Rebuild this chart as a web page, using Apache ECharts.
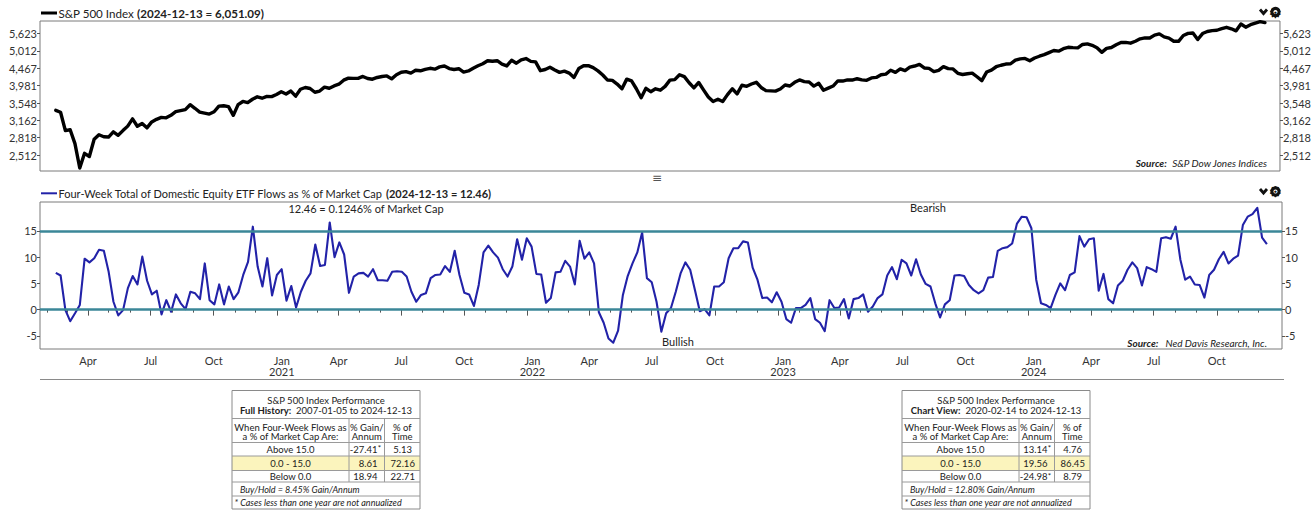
<!DOCTYPE html>
<html>
<head>
<meta charset="utf-8">
<script src="https://cdn.jsdelivr.net/npm/echarts@6/dist/echarts.min.js"></script>
<style>
  html, body { margin: 0; padding: 0; background: #fff; }
  #chart { width: 1314px; height: 511px; }
</style>
</head>
<body>
<div id="chart"></div>
<script>
// Weekly observations (Fridays), first week and count
const FIRST_WEEK = Date.UTC(2020, 1, 14);
const WEEK_MS = 7 * 86400000;

// S&P 500 weekly closes, 2020-02-14 .. 2024-12-13
const spx2020 = [3380, 3338, 2954, 2972, 2711, 2305, 2541, 2489, 2790, 2875, 2837, 2831, 2930, 2864, 2955, 3044,
  3194, 3041, 3098, 3009, 3130, 3185, 3225, 3216, 3271, 3351, 3373, 3397, 3508, 3427, 3341, 3319, 3298, 3348,
  3477, 3484, 3465, 3270, 3510, 3585, 3558, 3638, 3699, 3663, 3709, 3703];
const spx2021 = [3756, 3825, 3768, 3841, 3714, 3887, 3934, 3907, 3811, 3842, 3943, 3913, 3975, 4020, 4129, 4185,
  4180, 4181, 4233, 4174, 4156, 4204, 4230, 4247, 4166, 4281, 4352, 4370, 4327, 4412, 4395, 4437, 4468, 4442,
  4509, 4535, 4459, 4433, 4455, 4357, 4391, 4471, 4545, 4605, 4697, 4683, 4698, 4595, 4538, 4712, 4621, 4726, 4766];
const spx2022 = [4677, 4663, 4398, 4432, 4501, 4419, 4349, 4385, 4329, 4204, 4463, 4543, 4546, 4488, 4392, 4272,
  4132, 4123, 4024, 3901, 4158, 4109, 3901, 3675, 3912, 3825, 3899, 3863, 3962, 4130, 4145, 4280, 4228, 4058,
  3924, 4067, 3873, 3693, 3586, 3640, 3583, 3752, 3901, 3771, 3993, 3965, 4026, 4072, 3934, 3852, 3845, 3840];
const spx2023 = [3895, 3999, 3973, 4071, 4136, 4090, 4079, 3970, 4046, 3862, 3917, 3971, 4109, 4105, 4138, 4133,
  4169, 4136, 4124, 4192, 4205, 4282, 4299, 4410, 4348, 4450, 4399, 4505, 4536, 4582, 4478, 4464, 4370, 4406,
  4516, 4457, 4450, 4320, 4288, 4309, 4328, 4224, 4117, 4358, 4415, 4514, 4559, 4595, 4604, 4719, 4755, 4770];
const spx2024 = [4697, 4784, 4840, 4891, 4959, 5027, 5006, 5089, 5137, 5124, 5117, 5234, 5254, 5204, 5123, 4967,
  5100, 5128, 5223, 5303, 5305, 5278, 5347, 5432, 5465, 5460, 5567, 5615, 5505, 5459, 5347, 5344, 5554, 5634,
  5648, 5408, 5626, 5703, 5738, 5751, 5815, 5864, 5808, 5729, 5996, 5870, 5969, 6032, 6090, 6051.09];

// Four-week total of domestic equity ETF flows, % of market cap (x100)
const flows2020 = [7.0, 6.5, -0.1, -2.2, -0.7, 0.9, 9.7, 9.0, 9.8, 11.4, 11.2, 7.2, 1.5, -1.1, -0.1, 4.1, 6.4, 4.8,
  10.1, 5.5, 2.9, 3.6, -0.9, 1.8, -0.4, 2.9, 1.2, 0.1, 3.4, 3.1, 2.0, 8.8, 1.8, 1.0, 4.8, 1.0, 4.4, 2.0, 3.3, 6.6,
  9.1, 15.8, 8.2, 4.4, 9.8, 2.7];
const flows2021 = [6.6, 7.7, 1.7, 4.5, 0.4, 3.4, 5.5, 6.9, 12.4, 8.3, 8.5, 16.6, 10.0, 12.8, 10.5, 3.2, 6.3, 6.9,
  7.0, 6.3, 7.7, 5.6, 5.6, 5.5, 7.2, 7.3, 7.2, 6.3, 3.4, 1.5, 2.8, 3.1, 6.0, 6.6, 6.7, 8.3, 7.2, 11.2, 6.6, 3.2,
  2.9, 0.7, 4.7, 10.9, 12.2, 10.9, 9.9, 7.7, 6.3, 8.2, 13.4, 9.5, 13.6];
const flows2022 = [12.0, 6.8, 6.7, 1.3, 2.2, 7.1, 7.2, 9.3, 8.2, 4.8, 13.1, 9.7, 10.9, 8.8, -0.5, -2.5, -5.5, -6.3,
  -4.0, 2.8, 6.4, 8.8, 10.9, 14.7, 6.0, 5.2, 1.5, -4.2, -0.7, 0.3, 3.4, 6.9, 9.0, 7.6, 3.7, -0.3, 0.1, -1.1, 4.4,
  4.4, 5.2, 9.8, 11.7, 11.7, 13.0, 12.8, 8.0, 5.7, 2.2, 2.3, 1.4, 3.3];
const flows2023 = [1.5, -1.8, -2.5, 0.3, 0.3, 0.9, 2.2, -1.8, -2.5, -4.1, 1.8, 0.3, 0.4, 2.0, -1.7, 2.0, 2.2, 2.9,
  -0.4, 0.6, 2.2, 2.9, 6.5, 8.1, 5.8, 9.5, 8.8, 6.5, 9.6, 6.7, 4.9, 4.4, 1.2, -1.5, 1.0, 1.8, 6.5, 6.6, 6.4, 4.7,
  3.7, 3.1, 3.7, 6.1, 6.2, 11.2, 11.7, 11.9, 12.6, 16.4, 17.7, 17.6];
const flows2024 = [15.5, 5.7, 1.2, 0.9, 0.3, 2.8, 5.0, 3.7, 6.6, 7.1, 14.0, 12.0, 13.4, 13.6, 3.6, 6.8, 2.0, 1.2,
  4.6, 5.5, 7.6, 9.0, 7.9, 4.6, 8.1, 7.7, 7.2, 13.6, 13.8, 13.5, 15.8, 9.5, 5.7, 6.3, 4.8, 4.7, 2.3, 6.6, 7.6, 9.6,
  11.0, 8.8, 9.7, 10.3, 16.1, 17.7, 18.2, 19.4, 13.7, 12.46];

// Reference levels and tick labels
const upperLevel = 15;
const lowerLevel = 0;
const flowTicks = [-5, 0, 5, 10, 15];
const monthNames = ['Jan', 'Feb', 'Mar', 'Apr', 'May', 'Jun', 'Jul', 'Aug', 'Sep', 'Oct', 'Nov', 'Dec'];

// Performance tables
const bandLabels = ['Above 15.0', '0.0 - 15.0', 'Below 0.0'];
const fullHistoryGain = ['-27.41*', '8.61', '18.94'];
const fullHistoryTime = ['5.13', '72.16', '22.71'];
const chartViewGain = ['13.14*', '19.56', '-24.98*'];
const chartViewTime = ['4.76', '86.45', '8.79'];

const spx = [].concat(spx2020, spx2021, spx2022, spx2023, spx2024);
const flows = [].concat(flows2020, flows2021, flows2022, flows2023, flows2024);
const weeks = spx.map((_, i) => FIRST_WEEK + i * WEEK_MS);

const X_MIN = Date.UTC(2020, 0, 22);
const X_MAX = Date.UTC(2025, 0, 4);

// monthly and quarterly tick positions on the shared date axis
const monthTicks = [];
const quarterTicks = [];
for (let y = 2020; y <= 2024; y++) {
  for (let m = 0; m < 12; m++) {
    const t = Date.UTC(y, m, 1);
    if (t <= X_MIN || t >= X_MAX) continue;
    monthTicks.push(t);
    if (m % 3 === 0) quarterTicks.push(t);
  }
}

const FONT = 'Lato, "Noto Sans", sans-serif';
const INK = '#222';
const BLUE = '#2222a8';
const GRID_L = 40, GRID_W = 1242;

function text(x, y, str, o) {
  o = o || {};
  const align = o.align || 'left';
  const valign = o.valign || 'middle';
  const style = {
    text: str, x: 0, y: 0,
    fill: o.fill || INK,
    fontFamily: o.fontFamily || FONT,
    fontSize: o.fontSize || 11,
    fontWeight: o.fontWeight || 'normal',
    fontStyle: o.fontStyle || 'normal',
    align: align, textAlign: align,
    verticalAlign: valign, textVerticalAlign: valign
  };
  if (o.rich) style.rich = o.rich;
  return { type: 'text', x: x, y: y, silent: true, z: 20, style: style };
}
function hline(x1, x2, y, color, w) {
  return { type: 'line', silent: true, z: 20, shape: { x1: x1, y1: y, x2: x2, y2: y }, style: { stroke: color || '#888', lineWidth: w || 1 } };
}
function vline(x, y1, y2, color, w) {
  return { type: 'line', silent: true, z: 20, shape: { x1: x, y1: y1, x2: x, y2: y2 }, style: { stroke: color || '#888', lineWidth: w || 1 } };
}

function perfTable(x0, viewLabel, viewRange, gains, times, buyHold) {
  const y0 = 390.5, W = 188, H = 118.5;
  const c1 = x0 + 117, c2 = x0 + 152.5;
  const rows = [28, 52, 65.5, 80, 91.5, 105.5];
  const els = [];
  els.push({ type: 'rect', silent: true, z: 19, shape: { x: x0, y: y0 + rows[2], width: W, height: rows[3] - rows[2] }, style: { fill: '#fbf4bd' } });
  els.push({ type: 'rect', silent: true, z: 20, shape: { x: x0, y: y0, width: W, height: H }, style: { fill: 'none', stroke: '#8a8a8a', lineWidth: 1 } });
  rows.forEach(r => els.push(hline(x0, x0 + W, y0 + r, '#9a9a9a')));
  els.push(vline(c1, y0 + rows[0], y0 + rows[4], '#9a9a9a'));
  els.push(vline(c2, y0 + rows[0], y0 + rows[4], '#9a9a9a'));
  const fs = 9.5;
  els.push(text(x0 + W / 2, y0 + 9.5, 'S&P 500 Index Performance', { align: 'center', fontSize: fs }));
  els.push(text(x0 + W / 2, y0 + 19.5, '{b|' + viewLabel + '}{n|  ' + viewRange + '}', {
    align: 'center', fontSize: fs,
    rich: { b: { fontFamily: FONT, fontSize: fs, fontWeight: 'bold', fill: INK }, n: { fontFamily: FONT, fontSize: fs, fill: INK } }
  }));
  const mid1 = (x0 + c1) / 2, mid2 = (c1 + c2) / 2, mid3 = (c2 + x0 + W) / 2;
  els.push(text(mid1, y0 + 36.5, 'When Four-Week Flows as', { align: 'center', fontSize: fs }));
  els.push(text(mid1, y0 + 46, 'a % of Market Cap Are:', { align: 'center', fontSize: fs }));
  els.push(text(mid2, y0 + 36.5, '% Gain/', { align: 'center', fontSize: fs }));
  els.push(text(mid2, y0 + 46, 'Annum', { align: 'center', fontSize: fs }));
  els.push(text(mid3, y0 + 36.5, '% of', { align: 'center', fontSize: fs }));
  els.push(text(mid3, y0 + 46, 'Time', { align: 'center', fontSize: fs }));
  const rowY = [58.8, 73, 86];
  bandLabels.forEach((lab, i) => {
    els.push(text(mid1, y0 + rowY[i], lab, { align: 'center', fontSize: fs }));
    const g = gains[i];
    const star = g.endsWith('*');
    els.push(text(c1 + 28.5, y0 + rowY[i], star ? g.slice(0, -1) : g, { align: 'right', fontSize: fs }));
    if (star) els.push(text(c1 + 28.7, y0 + rowY[i] - 1, '*', { align: 'left', fontSize: 8 }));
    els.push(text(mid3 + 0.5, y0 + rowY[i], times[i], { align: 'center', fontSize: fs }));
  });
  els.push(text(x0 + 8, y0 + 98.8, buyHold, { fontSize: 9, fontStyle: 'italic' }));
  els.push(text(x0 + 2.5, y0 + 112, '* Cases less than one year are not annualized', { fontSize: 9, fontStyle: 'italic' }));
  return els;
}

function gearIcon(xc, yc) {
  return [
    { type: 'polyline', silent: true, z: 20, shape: { points: [[xc - 15.5, yc - 2.5], [xc - 12, yc + 1.5], [xc - 8.5, yc - 2.5]] }, style: { stroke: '#111', lineWidth: 2.8, fill: 'none' } },
    { type: 'circle', silent: true, z: 20, shape: { cx: xc, cy: yc, r: 3.6 }, style: { fill: 'none', stroke: '#111', lineWidth: 3 } },
    text(xc, yc + 0.5, '\u2699', { align: 'center', fontSize: 15, fontWeight: 'bold', fill: '#111', fontFamily: '"DejaVu Sans", sans-serif' })
  ];
}

const chart = echarts.init(document.getElementById('chart'), null, { renderer: 'svg', width: 1314, height: 511 });

const axisLabelBase = { color: '#333', fontFamily: FONT, fontSize: 11 };
const tickStyle = { color: '#555', width: 1 };

const logAxis = (pos) => ({
  type: 'log', logBase: Math.pow(10, 0.05), gridIndex: 0, position: pos,
  min: 2260, max: 6115,
  axisLine: { show: false }, splitLine: { show: false },
  axisTick: { show: true, length: 3, lineStyle: tickStyle },
  axisLabel: Object.assign({}, axisLabelBase, {
    margin: 3, showMinLabel: false, showMaxLabel: false,
    formatter: v => Math.round(v).toLocaleString('en-US')
  })
});
const flowAxis = (pos) => ({
  type: 'value', gridIndex: 1, position: pos, min: -7.5, max: 20.5,
  axisLine: { show: false }, splitLine: { show: false },
  axisTick: { show: true, length: 3, lineStyle: tickStyle, customValues: flowTicks },
  axisLabel: Object.assign({}, axisLabelBase, { margin: 3, customValues: flowTicks })
});

const tableEls = [].concat(
  perfTable(232, 'Full History:', '2007-01-05 to 2024-12-13', fullHistoryGain, fullHistoryTime, 'Buy/Hold = 8.45% Gain/Annum'),
  perfTable(902, 'Chart View:', '2020-02-14 to 2024-12-13', chartViewGain, chartViewTime, 'Buy/Hold = 12.80% Gain/Annum')
);

const legendRich = (fs) => ({
  n: { fontFamily: FONT, fontSize: fs, fill: INK },
  b: { fontFamily: FONT, fontSize: fs, fontWeight: 'bold', fill: INK }
});
const sourceRich = {
  b: { fontFamily: FONT, fontSize: 10, fontWeight: 'bold', fontStyle: 'italic', fill: INK },
  n: { fontFamily: FONT, fontSize: 10, fontStyle: 'italic', fill: INK }
};

chart.setOption({
  animation: false,
  backgroundColor: '#fff',
  grid: [
    { left: GRID_L, top: 21, width: GRID_W, height: 150, show: true, borderColor: '#7a7a7a', borderWidth: 1, backgroundColor: 'transparent' },
    { left: GRID_L, top: 202, width: GRID_W, height: 147, show: true, borderColor: '#7a7a7a', borderWidth: 1, backgroundColor: 'transparent' }
  ],
  xAxis: [
    { type: 'value', gridIndex: 0, min: X_MIN, max: X_MAX, show: false },
    {
      type: 'value', gridIndex: 1, min: X_MIN, max: X_MAX, position: 'bottom',
      axisLine: { show: false }, splitLine: { show: false },
      axisTick: { show: true, length: 3, lineStyle: tickStyle, customValues: monthTicks },
      axisLabel: { show: false }
    },
    {
      type: 'value', gridIndex: 1, min: X_MIN, max: X_MAX, position: 'bottom',
      axisLine: { show: false }, splitLine: { show: false },
      axisTick: { show: true, length: 6, lineStyle: tickStyle, customValues: quarterTicks },
      axisLabel: Object.assign({}, axisLabelBase, {
        customValues: quarterTicks, margin: 6, lineHeight: 11, hideOverlap: false,
        formatter: v => {
          const d = new Date(v);
          const m = d.getUTCMonth();
          if (m === 0) return '{j|Jan}\n{j|' + d.getUTCFullYear() + '}';
          return monthNames[m];
        },
        rich: { j: { color: '#333', fontFamily: FONT, fontSize: 11, lineHeight: 11, padding: [0, 0, 0, 10] } }
      })
    }
  ],
  yAxis: [logAxis('left'), logAxis('right'), flowAxis('left'), flowAxis('right')],
  series: [
    {
      name: 'S&P 500 Index', type: 'line', xAxisIndex: 0, yAxisIndex: 0,
      data: weeks.map((t, i) => [t, spx[i]]),
      showSymbol: false, symbol: 'none',
      lineStyle: { color: '#000', width: 3.4, join: 'round', cap: 'round' },
      z: 3
    },
    {
      name: 'Four-Week Total of Domestic Equity ETF Flows', type: 'line', xAxisIndex: 1, yAxisIndex: 2,
      data: weeks.map((t, i) => [t, flows[i]]),
      showSymbol: false, symbol: 'none',
      lineStyle: { color: BLUE, width: 2.1, join: 'round' },
      z: 3,
      markLine: {
        silent: true, symbol: 'none', label: { show: false },
        lineStyle: { color: '#3b8798', width: 2.5, type: 'solid' },
        data: [{ yAxis: upperLevel }, { yAxis: lowerLevel }]
      }
    }
  ],
  graphic: {
    elements: [
      // legend headers
      { type: 'rect', silent: true, z: 20, shape: { x: 41, y: 11.5, width: 16, height: 3 }, style: { fill: '#000' } },
      text(58.5, 13.3, '{n|S&P 500 Index }{b|(2024-12-13 = 6,051.09)}', { rich: legendRich(11.6) }),
      { type: 'rect', silent: true, z: 20, shape: { x: 41, y: 192.3, width: 16, height: 2 }, style: { fill: BLUE } },
      text(58.5, 193.3, '{n|Four-Week Total of Domestic Equity ETF Flows as % of Market Cap }{b|(2024-12-13 = 12.46)}', { rich: legendRich(11) }),
      // annotations
      text(366, 208.5, '12.46 = 0.1246% of Market Cap', { align: 'center', fontSize: 11 }),
      text(928, 207.5, 'Bearish', { align: 'center', fontSize: 11 }),
      text(678, 341.5, 'Bullish', { align: 'center', fontSize: 11 }),
      text(1267, 163, '{b|Source:}{n|  S&P Dow Jones Indices}', { align: 'right', rich: sourceRich }),
      text(1267, 343.3, '{b|Source:}{n|   Ned Davis Research, Inc.}', { align: 'right', rich: sourceRich }),
      // panel divider handle
      text(657, 177.5, '\u2261', { align: 'center', fontSize: 12, fill: '#555', fontFamily: '"DejaVu Sans", sans-serif' }),
      // rule under the date axis
      hline(40, 1284, 379.5, '#8a8a8a', 1.2)
    ].concat(gearIcon(1275.5, 12), gearIcon(1275.5, 191.5), tableEls)
  }
});
</script>
</body>
</html>
